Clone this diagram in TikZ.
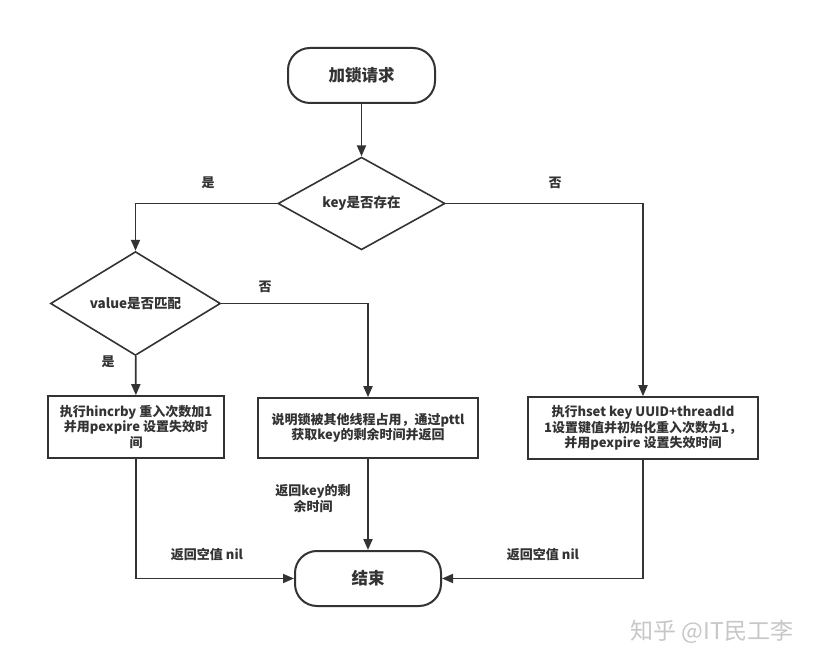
\documentclass[tikz,border=0pt]{standalone}
\usepackage{fontspec}
\setmainfont{Noto Sans CJK SC}
\usetikzlibrary{shapes.geometric,arrows.meta}
\definecolor{ink}{HTML}{333333}
\begin{document}
\begin{tikzpicture}[x=1pt,y=-1pt,
  every node/.style={font=\bfseries, text=ink},
  term/.style={draw=ink, line width=2pt, rounded corners=22pt, inner sep=0pt, font=\bfseries\fontsize{16.5}{18}\selectfont},
  dec/.style={draw=ink, line width=1.6pt, diamond, inner sep=0pt, font=\bfseries\fontsize{13.5}{15}\selectfont},
  procbox/.style={draw=ink, line width=1.6pt, inner sep=0pt, align=center, font=\bfseries\fontsize{13}{15.5}\selectfont},
  lbl/.style={font=\bfseries\fontsize{13}{16}\selectfont, align=center},
  arr/.style={draw=ink, line width=1.8pt, -{Triangle[length=11pt,width=9pt]}}
]
\useasboundingbox (0,0) rectangle (820,668);
\fill[white] (0,0) rectangle (820,668);

\node[term, minimum width=147pt, minimum height=55pt] (start) at (361.5,75.5) {加锁请求};
\node[dec, minimum width=167pt, minimum height=79pt] (key) at (361.5,203.5) {key是否存在};
\node[dec, minimum width=170pt, minimum height=73pt] (val) at (135.5,303.5) {value是否匹配};
\node[procbox, minimum width=176pt, minimum height=62pt] (b1) at (136,427) {执行hincrby 重入次数加1\\并用pexpire 设置失效时\\间};
\node[procbox, minimum width=220pt, minimum height=60pt] (b2) at (368,428) {说明锁被其他线程占用，通过pttl\\获取key的剩余时间并返回};
\node[procbox, minimum width=230pt, minimum height=62pt] (b3) at (643,428) {执行hset key UUID+threadId\\1设置键值并初始化重入次数为1，\\并用pexpire 设置失效时间};
\node[term, minimum width=146pt, minimum height=55pt] (end) at (368,578.5) {结束};

\draw[arr] (start) -- (key);
\draw[arr] (key.west) -| (val.north);
\draw[arr] (key.east) -| (b3.north);
\draw[arr] (val.east) -| (b2.north);
\draw[arr] (val) -- (b1);
\draw[arr] (b2) -- (end);
\draw[arr] (b1.south) |- (end.west);
\draw[arr] (b3.south) |- (end.east);

\node[lbl] (l1) at (208,183) {是};
\node[lbl] (l2) at (555,183) {否};
\node[lbl] (l3) at (265,287) {否};
\node[lbl] (l4) at (108,362) {是};
\node[lbl] (l5) at (313,499) {返回key的剩\\余时间};
\node[lbl] (l6) at (207,555) {返回空值 nil};
\node[lbl] (l7) at (543,555) {返回空值 nil};
\node[font=\fontsize{23}{24}\selectfont, text=black!22] (wm) at (712,632) {知乎 @IT民工李};
\end{tikzpicture}
\end{document}
